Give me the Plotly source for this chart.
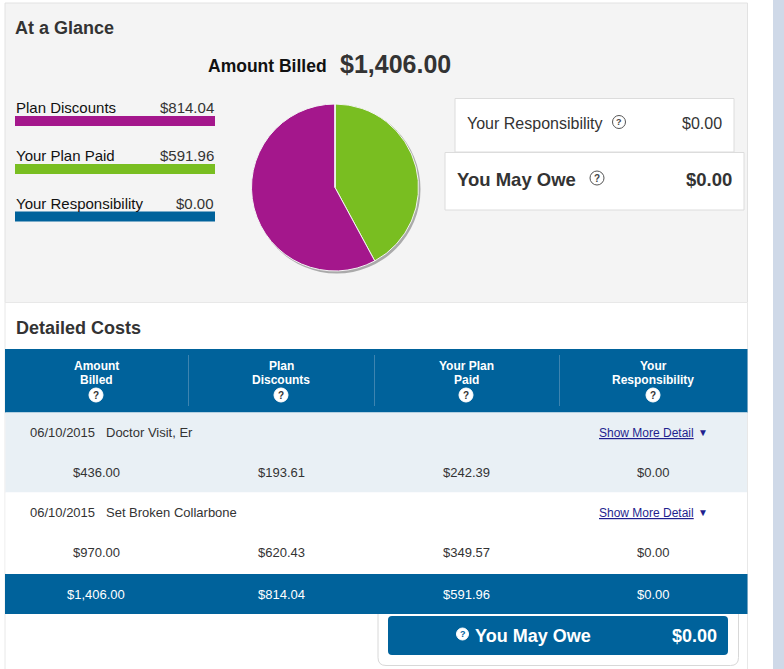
import plotly.graph_objects as go

# ---------------- data ----------------
glance_labels = ["Plan Discounts", "Your Plan Paid", "Your Responsibility"]
glance_values = [814.04, 591.96, 0.00]

column_headers = ["Amount<br>Billed", "Plan<br>Discounts", "Your Plan<br>Paid", "Your<br>Responsibility"]
service_dates = ["06/10/2015", "06/10/2015"]
service_names = ["Doctor Visit, Er", "Set Broken Collarbone"]
amount_billed = [436.00, 970.00]
plan_discounts = [193.61, 620.43]
plan_paid = [242.39, 349.57]
responsibility = [0.00, 0.00]
you_may_owe = 0.00

# ---------------- style ----------------
W, H = 784, 669
PURPLE = "#a4178c"
GREEN = "#79be21"
BLUE = "#00629b"
TXT = "#333333"
NAVY = "#1f1f8f"
FONT = "Liberation Sans, Arial, sans-serif"
colors = [PURPLE, GREEN, BLUE]


def money(v):
    return f"${v:,.2f}"


fig = go.Figure()
shapes = []
ann = []


def rect(x0, y0, x1, y1, fill, line=None, lw=1):
    shapes.append(dict(type="rect", xref="x", yref="y", x0=x0, y0=y0, x1=x1, y1=y1,
                       fillcolor=fill, layer="below",
                       line=dict(color=line or "rgba(0,0,0,0)", width=lw if line else 0)))


def vline(x, y0, y1, color, w=1):
    shapes.append(dict(type="line", xref="x", yref="y", x0=x, x1=x, y0=y0, y1=y1,
                       layer="below", line=dict(color=color, width=w)))


def text(x, y, s, size=13, color=TXT, xa="left", bold=False, family=FONT):
    if bold:
        s = f"<b>{s}</b>"
    # compensate the annotation's inner padding
    if xa == "left":
        x -= 1.5
    elif xa == "right":
        x += 1
    ann.append(dict(x=x, y=y, xref="x", yref="y", text=s, showarrow=False,
                    xanchor=xa, yanchor="middle",
                    font=dict(size=size, color=color, family=family)))


def qicon(cx, cy, r, fill, edge, qcolor, qsize):
    shapes.append(dict(type="circle", xref="x", yref="y", x0=cx - r, x1=cx + r,
                       y0=cy - r, y1=cy + r, fillcolor=fill, layer="below",
                       line=dict(color=edge, width=1)))
    text(cx, cy, "?", size=qsize, color=qcolor, xa="center", bold=True)


def rounded(x0, y0, x1, y1, r, fill, line=None, lw=1):
    p = (f"M {x0+r},{y0} L {x1-r},{y0} Q {x1},{y0} {x1},{y0+r} L {x1},{y1-r} "
         f"Q {x1},{y1} {x1-r},{y1} L {x0+r},{y1} Q {x0},{y1} {x0},{y1-r} "
         f"L {x0},{y0+r} Q {x0},{y0} {x0+r},{y0} Z")
    shapes.append(dict(type="path", xref="x", yref="y", path=p, fillcolor=fill,
                       layer="below",
                       line=dict(color=line or "rgba(0,0,0,0)", width=lw if line else 0)))


# ---------- page backgrounds ----------
rect(773, 0, 784, H, "#cfd9e8")
rect(5, 3, 747.5, 302.5, "#f4f4f4", "#e2e2e2")
rect(5, 302.5, 747.5, H + 2, "#ffffff", "#e8e8e8")

# ---------- At a Glance ----------
text(14.5, 28, "At a Glance", size=18, bold=True)
text(207, 65.5, "Amount Billed", size=17.5, color="#111111", bold=True)
text(339, 63.5, money(sum(glance_values)), size=25, bold=True)

rows_y = [107.5, 155.5, 203]
for lab, val, c, yy in zip(glance_labels, glance_values, colors, rows_y):
    text(15, yy, lab, size=15, color="#111111")
    text(215, yy, money(val), size=15, xa="right")
    rect(15, yy + 8.5, 215, yy + 18.5, c)

# pie with soft shadow (slice order: plan paid first, drawn clockwise from 12 o'clock)
pie_order = [1, 0, 2]
pie_x0, pie_x1, pie_y0, pie_y1 = 251.5, 418.5, 103.5, 271.5
shapes.append(dict(type="circle", xref="x", yref="y", x0=pie_x0 + 1.5, x1=pie_x1 + 2,
                   y0=pie_y0 + 1.5, y1=pie_y1 + 2, fillcolor="rgba(0,0,0,0.30)",
                   layer="below", line=dict(width=0)))
fig.add_trace(go.Pie(values=[glance_values[i] for i in pie_order],
                     labels=[glance_labels[i] for i in pie_order], sort=False,
                     direction="clockwise", rotation=0,
                     marker=dict(colors=[colors[i] for i in pie_order],
                                 line=dict(color="#f4f4f4", width=1)),
                     textinfo="none", hoverinfo="label+value", showlegend=False,
                     domain=dict(x=[pie_x0 / W, pie_x1 / W],
                                 y=[1 - pie_y1 / H, 1 - pie_y0 / H])))

# summary boxes
rect(455, 98.5, 734, 152, "#ffffff", "#dcdcdc")
text(466.5, 123, glance_labels[2], size=16)
qicon(619, 122, 6.5, "#ffffff", "#555555", "#444444", 9)
text(723, 123, money(glance_values[2]), size=16, xa="right")

rect(445, 152.5, 744, 210, "#ffffff", "#dcdcdc")
text(456, 179, "You May Owe", size=18.5, bold=True)
qicon(597, 178, 7, "#ffffff", "#555555", "#444444", 10)
text(733, 179, money(you_may_owe), size=18.5, xa="right", bold=True)

# ---------- Detailed Costs ----------
text(15, 328, "Detailed Costs", size=18, bold=True)

col_x = [96, 281, 466, 653]
rect(5, 349, 747.5, 412.5, BLUE)
for sx in [188.5, 374.5, 559.5]:
    vline(sx, 355, 406, "#3d84b0")
for cx, hdr in zip(col_x, column_headers):
    l1, l2 = hdr.split("<br>")
    text(cx, 366, l1, size=12, color="#ffffff", xa="center", bold=True)
    text(cx, 380, l2, size=12, color="#ffffff", xa="center", bold=True)
    qicon(cx, 395, 7, "#ffffff", "#ffffff", "#333333", 10)

row_tops = [412.5, 492.5]
row_bgs = ["#e9f0f5", "#ffffff"]
for i in range(len(service_dates)):
    top = row_tops[i]
    rect(5.5, top, 747, top + 80, row_bgs[i])
    text(29, top + 20, service_dates[i], size=13)
    text(105, top + 20, service_names[i], size=13)
    text(598, top + 20.5, "<u>Show More Detail</u>", size=12, color=NAVY)
    text(702.5, top + 20, "▼", size=10, color=NAVY, xa="center")
    vals = [amount_billed[i], plan_discounts[i], plan_paid[i], responsibility[i]]
    for cx, v in zip(col_x, vals):
        text(cx, top + 60, money(v), size=13, xa="center")

# totals
rect(5, 574, 747.5, 614, BLUE)
totals = [sum(amount_billed), sum(plan_discounts), sum(plan_paid), sum(responsibility)]
for cx, v in zip(col_x, totals):
    text(cx, 594, money(v), size=13, color="#ffffff", xa="center")

# you may owe box
rounded(378, 606, 738.5, 665.5, 8, "#ffffff", "#d8d8d8")
rect(377, 600, 740, 614, BLUE)
rounded(388, 616, 728, 655, 4, BLUE)
qicon(462.5, 634, 6, "#ffffff", "#ffffff", BLUE, 9)
text(474, 635.5, "You May Owe", size=18, color="#ffffff", bold=True)
text(717.5, 635.5, money(you_may_owe), size=18, color="#ffffff", xa="right", bold=True)

fig.update_layout(
    width=W, height=H, margin=dict(l=0, r=0, t=0, b=0, pad=0),
    paper_bgcolor="#ffffff", plot_bgcolor="rgba(0,0,0,0)",
    xaxis=dict(range=[0, W], visible=False, fixedrange=True),
    yaxis=dict(range=[H, 0], visible=False, fixedrange=True),
    shapes=shapes, annotations=ann, showlegend=False,
    font=dict(family=FONT, color=TXT),
)

fig.write_html("out.html", config=dict(displayModeBar=False),
               post_script="document.body.style.margin='0px';document.body.style.overflow='hidden';")
